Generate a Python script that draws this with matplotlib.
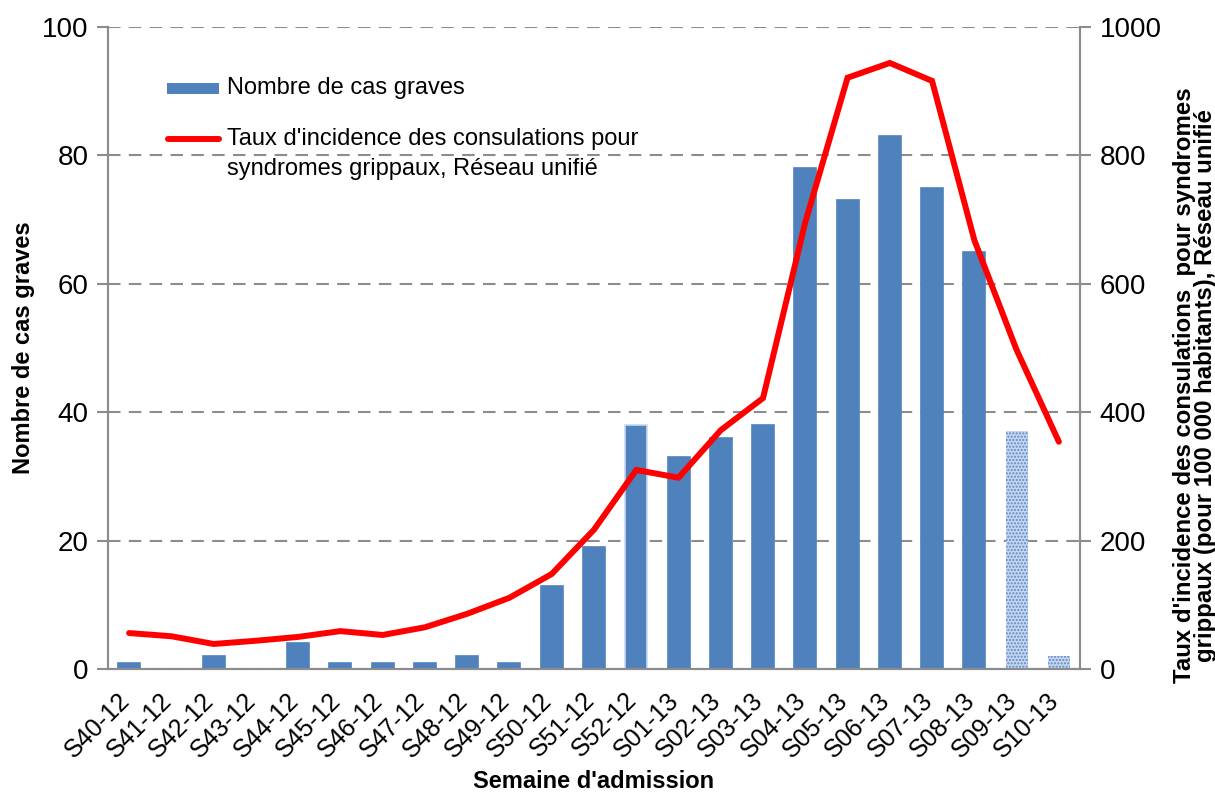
import matplotlib.pyplot as plt
import matplotlib.transforms as mtransforms
import numpy as np
from matplotlib.lines import Line2D
from matplotlib.patches import Rectangle

plt.rcParams["font.family"] = ["Liberation Sans", "DejaVu Sans"]

semaines = [
    "S40-12", "S41-12", "S42-12", "S43-12", "S44-12", "S45-12", "S46-12",
    "S47-12", "S48-12", "S49-12", "S50-12", "S51-12", "S52-12", "S01-13",
    "S02-13", "S03-13", "S04-13", "S05-13", "S06-13", "S07-13", "S08-13",
    "S09-13", "S10-13",
]
cas_graves = [1, 0, 2, 0, 4, 1, 1, 1, 2, 1, 13, 19, 38, 33, 36, 38, 78, 73, 83, 75, 65, 37, 2]
# semaines non consolidées (barres hachurées)
provisoire = [False] * 21 + [True, True]
taux_incidence = [56, 51, 39, 44, 50, 59, 53, 65, 86, 111, 148, 217, 310, 298,
                  372, 422, 696, 921, 944, 916, 668, 497, 354]

bleu = "#4f81bd"
gris = "#8c8c8c"
W, H = 1215, 792


def fpos(px, py):
    # pixels -> coordonnées figure
    return px / W, 1 - py / H


fig = plt.figure(figsize=(W / 100, H / 100), dpi=100)
ax = fig.add_axes([108 / W, 1 - 669 / H, 972 / W, 642 / H])
ax2 = ax.twinx()

x = np.arange(len(semaines))
cas = np.array(cas_graves)
prov = np.array(provisoire)
bords = ["#c6d9f1" if s == "S52-12" else bleu for s in semaines]
ax.bar(x[~prov], cas[~prov], width=0.52, color=bleu,
       edgecolor=np.array(bords)[~prov], linewidth=1.2, zorder=3)
ax.bar(x[prov], cas[prov], width=0.52, facecolor="#c5d6ee",
       edgecolor="#5a88c6", hatch=".....", linewidth=0, zorder=3)

ax2.plot(x, taux_incidence, color="#ff0000", linewidth=4.3,
         solid_joinstyle="miter", solid_capstyle="round")

ax.set_xlim(-0.5, len(semaines) - 0.5)
ax.set_ylim(0, 100)
ax2.set_ylim(0, 1000)
ax.set_yticks(range(0, 101, 20))
ax2.set_yticks(range(0, 1001, 200))

ax.yaxis.grid(True, color=gris, linestyle=(0, (6, 4)), linewidth=1.5, zorder=0)
ax.set_axisbelow(True)

for a in (ax, ax2):
    a.spines["top"].set_visible(False)
    for s in ("left", "right", "bottom"):
        a.spines[s].set_color(gris)
        a.spines[s].set_linewidth(1.5)
    a.tick_params(axis="y", labelsize=20, length=8, width=1.5, color=gris, pad=6)

# étiquettes des semaines : texte incliné posé sous chaque position
ax.set_xticks(x)
ax.set_xticklabels([])
ax.tick_params(axis="x", length=0)
trans = mtransforms.blended_transform_factory(ax.transData, ax.transAxes)
trans = trans + mtransforms.ScaledTranslation(-12 / 100, -19 / 100, fig.dpi_scale_trans)
for i, s in enumerate(semaines):
    ax.text(i, 0, s, transform=trans, rotation=45, rotation_mode="anchor",
            ha="right", va="top", fontsize=18)

ax.set_ylabel("Nombre de cas graves", fontsize=17, fontweight="bold", labelpad=5)
xl, yl = fpos(594, 782)
fig.text(xl, yl, "Semaine d'admission", fontsize=17, fontweight="bold",
         ha="center", va="center")

# titre de l'axe de droite placé à la main pour rester dans l'image
rx, ry = fpos(1195, 385)
fig.text(rx, ry, "Taux d'incidence des consulations  pour syndromes\ngrippaux (pour 100 000 habitants), Réseau unifié",
         fontsize=17.3, fontweight="bold", rotation=90, ha="center", va="center",
         multialignment="center", linespacing=0.92)

# légende dessinée à la main (poignée rouge alignée sur la première ligne)
x0, y0 = fpos(167, 94)
x1, y1 = fpos(219, 83)
fig.patches.append(Rectangle((x0, y0), x1 - x0, y1 - y0, transform=fig.transFigure,
                             facecolor=bleu, edgecolor="none"))
lx0, ly = fpos(168, 139)
lx1, _ = fpos(219, 139)
fig.lines.append(Line2D([lx0, lx1], [ly, ly], transform=fig.transFigure,
                        color="#ff0000", linewidth=4.3, solid_capstyle="round"))
tx, ty = fpos(227, 88)
fig.text(tx, ty, "Nombre de cas graves", fontsize=17, va="center", ha="left")
tx, ty = fpos(227, 128)
fig.text(tx, ty, "Taux d'incidence des consulations pour\nsyndromes grippaux, Réseau unifié",
         fontsize=17, va="top", ha="left", linespacing=1.45)

fig.savefig("out.png", dpi=100)
